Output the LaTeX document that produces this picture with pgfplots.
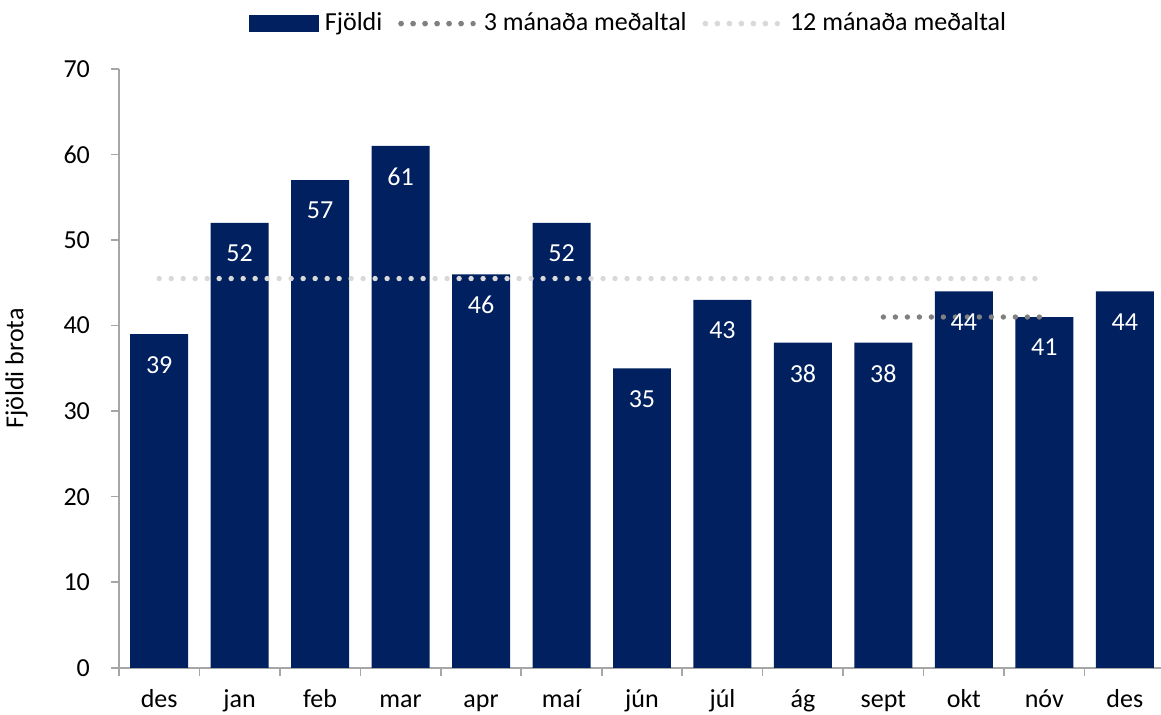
\documentclass[border=0pt]{standalone}
\usepackage{fontspec}
\setmainfont{Carlito}
\usepackage{pgfplots}
\pgfplotsset{compat=1.18}
\definecolor{BarBlue}{HTML}{002060}
\definecolor{AxisGray}{HTML}{A6A6A6}
\definecolor{DotDark}{HTML}{808080}
\definecolor{DotLight}{HTML}{D9D9D9}

\begin{document}
\fontsize{13}{15}\selectfont
\begin{tikzpicture}
\begin{axis}[
  scale only axis,
  width=521.2pt,
  height=299.5pt,
  xmin=-0.5, xmax=12.45,
  ymin=0, ymax=70,
  ytick={0,10,...,70},
  xtick={0,...,12},
  xticklabels={des,jan,feb,mar,apr,maí,jún,júl,ág,sept,okt,nóv,des},
  minor xtick={-0.5,0.5,...,11.5},
  major x tick style={draw=none},
  tick align=outside,
  major tick length=4pt,
  minor tick length=4pt,
  tick style={draw=AxisGray, line width=0.8pt},
  axis x line*=bottom,
  axis y line*=left,
  axis line style={draw=AxisGray, line width=0.8pt, -},
  /pgf/number format/assume math mode=true,
  tick label style={font=\fontsize{13}{15}\selectfont},
  xticklabel style={text height=9.5pt, text depth=2.5pt, inner ysep=2pt, yshift=-4pt},
  yticklabel style={xshift=-6pt},
  ylabel={Fjöldi brota},
  ylabel style={font=\fontsize{13}{15}\selectfont, yshift=9pt},
  legend style={
    at={(0.49,1.0)}, anchor=south, yshift=13pt,
    draw=none, fill=none,
    legend columns=-1,
    font=\fontsize{13}{15}\selectfont,
    /tikz/every odd column/.append style={column sep=1pt},
    /tikz/every even column/.append style={column sep=6pt},
  },
  clip=false,
]
\addplot[ybar, bar width=29pt, bar shift=0pt, fill=BarBlue, draw=none,
  area legend,
  legend image code/.code={\fill[BarBlue] (0pt,-4.3pt) rectangle (35pt,4.3pt);}]
  coordinates {(0,39) (1,52) (2,57) (3,61) (4,46) (5,52) (6,35) (7,43) (8,38) (9,38) (10,44) (11,41) (12,44)};
\addlegendentry{Fjöldi}
\addplot[DotDark, line width=2.7pt, line cap=round, dash pattern=on 0pt off 6pt,
  legend image code/.code={\draw[DotDark, line width=2.7pt, line cap=round, dash pattern=on 0pt off 6pt] (0pt,0pt) -- (30.5pt,0pt); \path (0pt,0pt) -- (37pt,0pt);}]
  coordinates {(9,41) (11,41)};
\addlegendentry{3 mánaða meðaltal}
\addplot[DotLight, line width=2.7pt, line cap=round, dash pattern=on 0pt off 6pt,
  legend image code/.code={\draw[DotLight, line width=2.7pt, line cap=round, dash pattern=on 0pt off 6pt] (0pt,0pt) -- (30.5pt,0pt); \path (0pt,0pt) -- (38pt,0pt);}]
  coordinates {(0,45.5) (11,45.5)};
\addlegendentry{12 mánaða meðaltal}
\addplot[ybar, bar width=29pt, bar shift=0pt, draw=none, fill=none, forget plot,
  nodes near coords,
  every node near coord/.append style={anchor=north, yshift=-6.5pt, text=white, font=\fontsize{13}{15}\selectfont}]
  coordinates {(0,39) (1,52) (2,57) (3,61) (4,46) (5,52) (6,35) (7,43) (8,38) (9,38) (10,44) (11,41) (12,44)};
\end{axis}
\pgfresetboundingbox
\path (-59.5pt,-23.5pt) rectangle (521.2pt,334pt);
\end{tikzpicture}
\end{document}
